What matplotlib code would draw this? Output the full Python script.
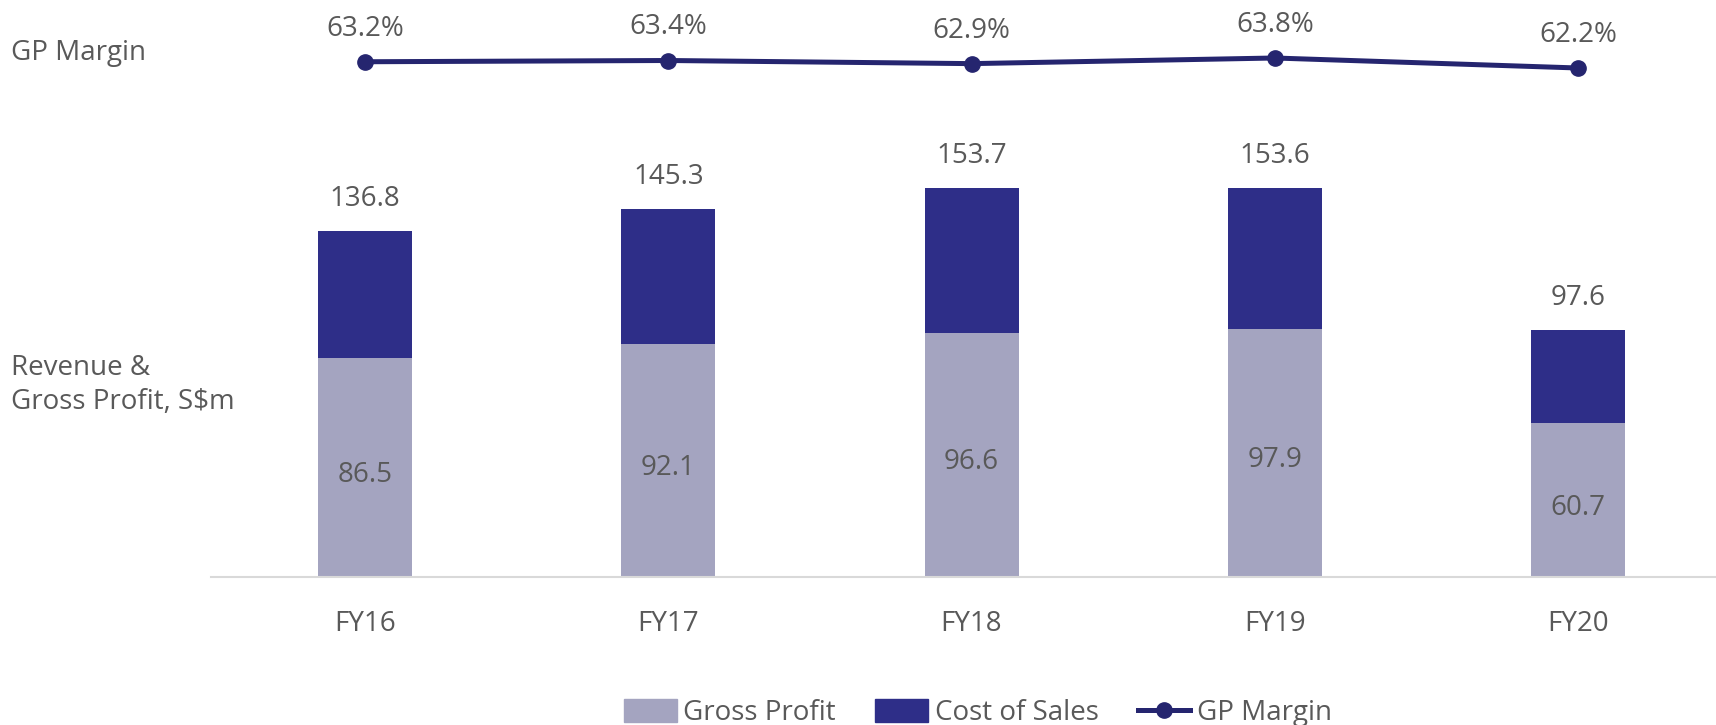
import matplotlib
matplotlib.use("Agg")
import matplotlib.pyplot as plt
from matplotlib.patches import Patch
from matplotlib.lines import Line2D
import numpy as np

categories = ["FY16", "FY17", "FY18", "FY19", "FY20"]
revenue = [136.8, 145.3, 153.7, 153.6, 97.6]
gross_profit = [86.5, 92.1, 96.6, 97.9, 60.7]
gp_margin = [63.2, 63.4, 62.9, 63.8, 62.2]
cost_of_sales = [r - g for r, g in zip(revenue, gross_profit)]

LIGHT = "#A4A4C0"
DARK = "#2E2E88"
LINE = "#25256F"
TXT = "#595959"
FS = 20

plt.rcParams['font.family'] = ['Open Sans', 'DejaVu Sans']

W, H = 1716, 725
fig = plt.figure(figsize=(W / 100, H / 100), dpi=100)

x = np.arange(len(categories))
xl = (-0.508, 4.455)

# bar axes
ax = fig.add_axes([211 / W, 1 - 577 / H, 1 - 211 / W, (577 - 120) / H])
ax.bar(x, gross_profit, width=0.31, color=LIGHT, zorder=2)
ax.bar(x, cost_of_sales, bottom=gross_profit, width=0.31, color=DARK, zorder=2)
ax.set_xlim(*xl)
ax.set_ylim(0, 180.6)
for i in range(len(x)):
    ax.text(x[i], gross_profit[i] / 2 - 2.9, f"{gross_profit[i]:.1f}", ha="center", va="center",
            fontsize=FS, color=TXT)
    ax.text(x[i], revenue[i] + 12.6, f"{revenue[i]:.1f}", ha="center", va="center",
            fontsize=FS, color=TXT)
for s in ["top", "right", "left"]:
    ax.spines[s].set_visible(False)
ax.spines["bottom"].set_color("#D9D9D9")
ax.spines["bottom"].set_linewidth(1.5)
ax.set_yticks([])
ax.set_xticks(x)
ax.set_xticklabels(categories, fontsize=FS, color=TXT)
ax.tick_params(axis="x", length=0, pad=24)

# line axes
lax = fig.add_axes([211 / W, 1 - 110 / H, 1 - 211 / W, 100 / H])
lax.plot(x, gp_margin, color=LINE, lw=3.6, marker="o", ms=11, zorder=3)
lax.set_xlim(*xl)
lax.set_ylim(55.48, 71.48)
lax.axis("off")
for i in range(len(x)):
    lax.text(x[i], gp_margin[i] + 5.3, f"{gp_margin[i]:.1f}%", ha="center", va="center",
             fontsize=FS, color=TXT)

fig.text(11 / W, 1 - 53 / H, "GP Margin", ha="left", va="center", fontsize=FS, color=TXT)
fig.text(11 / W, 1 - 385 / H, "Revenue &\nGross Profit, S$m", ha="left", va="center",
         fontsize=FS, color=TXT, linespacing=1.3)

handles = [Patch(color=LIGHT, label="Gross Profit"),
           Patch(color=DARK, label="Cost of Sales"),
           Line2D([0], [0], color=LINE, lw=3.6, marker="o", ms=11, label="GP Margin")]
fig.legend(handles=handles, loc="center", bbox_to_anchor=(978 / W, 1 - 713 / H), ncol=3,
           frameon=False, fontsize=FS, labelcolor=TXT, handlelength=1.9, handletextpad=0.25,
           columnspacing=1.4, handleheight=0.93)

fig.savefig("out.png", dpi=100)
